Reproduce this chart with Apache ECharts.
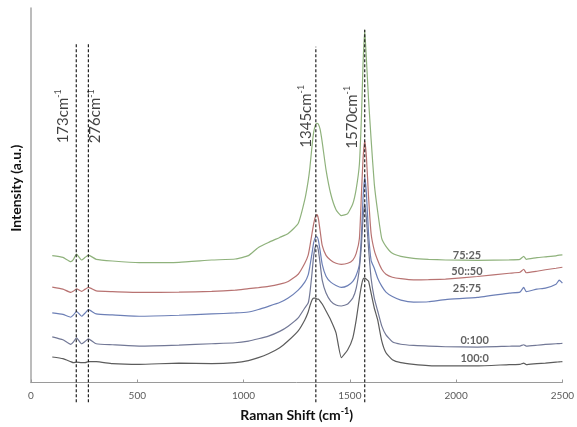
<!DOCTYPE html>
<html>
<head>
<meta charset="utf-8">
<script src="https://cdn.jsdelivr.net/npm/echarts@6/dist/echarts.min.js"></script>
<style>
html,body{margin:0;padding:0;background:#fff;}
#chart{width:577px;height:427px;}
</style>
</head>
<body>
<div id="chart"></div>
<script>
// Raman shift (cm-1) sample positions
const ramanShift = [100,150,187,200,214,238,255,270,307,383,509,696,850,961,1023,1070,1117,1170,1210,1257,1288,1304,1312,1322,1330,1338,1345,1352,1360,1370,1388,1410,1435,1460,1490,1514,1530,1545,1555,1562,1570,1578,1588,1600,1615,1631,1650,1670,1700,1740,1800,1870,1950,2100,2250,2300,2318,2330,2380,2420,2470,2485,2500];

// Intensities (a.u., stacked offsets as in the figure)
const s75_25 = [127.7,126,121.7,124,129.3,123.3,126,128.3,124,122.3,120.7,121,123.3,124.3,127.7,136,141,146,150,160,184,203,216,238,252,259,261,260,255,242,214,190,174,168,170,180,195,220,270,320,355,325,285,245,200,172,145,137,130,127,125,124,123.3,123,123.5,124,127,124,125.7,126.5,127.5,128.3,128.5];
const s50_50 = [96,94,90.7,92,94.3,91.7,94,95.7,92.3,91.5,90.7,91,91.7,93,94.5,95.5,96.7,99,101.7,109,120,128.3,137,150,160,167,169,165,153,138,128,123,120,119,120,123.3,130,145,192,225,243,227,187,150,133,123,114,109,106,104.5,103.3,103.5,104,106.7,110,111,114,110.5,112,113.5,115,115.5,116];
const s25_75 = [70,68.5,65.7,68,71.7,66.7,70,73.3,69,68,66.7,67.7,69,70,71,73.5,76.7,80.5,85,93,101,108.3,117,130,141,146,146.7,143,133,119,107,101,97.7,95.7,97.5,101.7,108,119,150,185,206.7,190,150,123,115,105,97,91,86.5,83,81,81.3,83.5,85.7,90,91,95.7,91.5,94,95,99,103,100];
const s0_100 = [46,43,38.3,41,45,39,41.5,44,39,38,36.7,37.7,39,40,41.7,44,46.7,51.5,56.7,65,75,80,90,110,128,137,138,133,120,103,90,82,78,77,79,85,95,115,140,165,180,165,135,105,85,72,57,48,41,38.5,37.3,36.7,36,35.7,36.5,36.7,38,36.7,37.5,38.3,39,39.2,39.3];
const s100_0 = [25.7,24,21,20,20.5,20,20,21,21,19,18.3,19.5,19,20,22,25,29,35,42,52,63,71,77,83,85,85,84,84,82,79,72,63,50,25,33,45,63,85,98,104,105,104,102,90,75,63,42,30,23,20,18.3,17,16.7,16.7,18,18.2,19.5,18,19,19.5,20.5,20.8,21];

const seriesNames = ['75:25','50::50','25:75','0:100','100:0'];
const seriesColors = ['#8fb27c','#b87372','#6c7fb6','#727896','#5c5c5c'];
const seriesLabelX = [2051,2051,2051,2087,2087];
const seriesLabelY = [127.7,111.7,94.3,42.7,24.3];

// Peak marker lines and labels
const peakNames = ['173','276','1345','1570'];
const peakLineX = [213,270,1340,1570];
const peakLineTop = [342,342,338,355];
const peakLineBottom = -20;
const peakLabelX = [150,304,1294,1509];
const peakLabelY = [268,268,268,267];

// Axis ticks
const xTicks = [0,500,1000,1500,2000,2500];

const allValues = [s75_25,s50_50,s25_75,s0_100,s100_0];
const FONT = 'Lato, "Open Sans", sans-serif';
const CLEAR = 'rgba(0,0,0,0)';

const series = [];
allValues.forEach((vals,k)=>{
  series.push({
    type:'line', name:seriesNames[k], showSymbol:false, symbol:'none',
    smooth:0.15, z:3,
    lineStyle:{color:seriesColors[k], width:1.2},
    data: ramanShift.map((x,i)=>[x, vals[i]])
  });
});
peakLineX.forEach((x,k)=>{
  series.push({
    type:'line', symbol:'none', clip:false, z:4, silent:true,
    lineStyle:{color:'#222', width:1.2, type:[3,2]},
    data:[[x,peakLineBottom],[x,peakLineTop[k]]]
  });
});
series.push({
  type:'scatter', symbol:'circle', symbolSize:1, itemStyle:{color:CLEAR}, z:5, silent:true,
  label:{show:true, position:'inside', rotate:90, color:'#111',
    fontFamily:FONT, fontSize:15,
    formatter:p=>'{a|'+p.data[2]+'cm}{s|-1}',
    rich:{a:{fontSize:15, fontFamily:FONT, color:'#111', lineHeight:18},
          s:{fontSize:9, fontFamily:FONT, color:'#111', verticalAlign:'top', lineHeight:18}}},
  data: peakNames.map((n,k)=>[peakLabelX[k], peakLabelY[k], n])
});
series.push({
  type:'scatter', symbol:'circle', symbolSize:1, itemStyle:{color:CLEAR}, z:5, silent:true,
  label:{show:true, position:'inside', color:'#3a3a3a', fontFamily:FONT,
    fontWeight:'bold', fontSize:11, formatter:p=>p.data[2]},
  data: seriesNames.map((n,k)=>[seriesLabelX[k], seriesLabelY[k], n])
});

const chart = echarts.init(document.getElementById('chart'), null, {renderer:'canvas'});
chart.setOption({
  animation:false,
  backgroundColor:'#fff',
  grid:{left:31, right:11, top:8, bottom:42, containLabel:false},
  xAxis:{
    type:'value', min:xTicks[0], max:xTicks[xTicks.length-1], interval:500,
    name:'{a|Raman Shift (cm}{s|-1}{a|)}', nameLocation:'middle', nameGap:24,
    nameTextStyle:{fontFamily:FONT, fontWeight:'bold', fontSize:14, color:'#111',
      rich:{a:{fontFamily:FONT, fontWeight:'bold', fontSize:14, color:'#111', lineHeight:17},
            s:{fontFamily:FONT, fontWeight:'bold', fontSize:9, color:'#111', verticalAlign:'top', lineHeight:17}}},
    axisLine:{show:true, lineStyle:{color:'#9a9a9a', width:1}},
    axisTick:{show:true, inside:true, length:3, lineStyle:{color:'#9a9a9a'}},
    axisLabel:{fontFamily:FONT, fontSize:10, color:'#5a5a5a', margin:8, formatter:v=>String(v)},
    splitLine:{show:false}
  },
  yAxis:{
    type:'value', min:0, max:377,
    name:'Intensity (a.u.)', nameLocation:'middle', nameGap:8, nameRotate:90,
    nameTextStyle:{fontFamily:FONT, fontWeight:'bold', fontSize:14, color:'#111', padding:[0,0,0,14]},
    axisLine:{show:true, lineStyle:{color:'#a6a6a6', width:1.5}},
    axisTick:{show:false}, axisLabel:{show:false}, splitLine:{show:false}
  },
  series: series
});
</script>
</body>
</html>
